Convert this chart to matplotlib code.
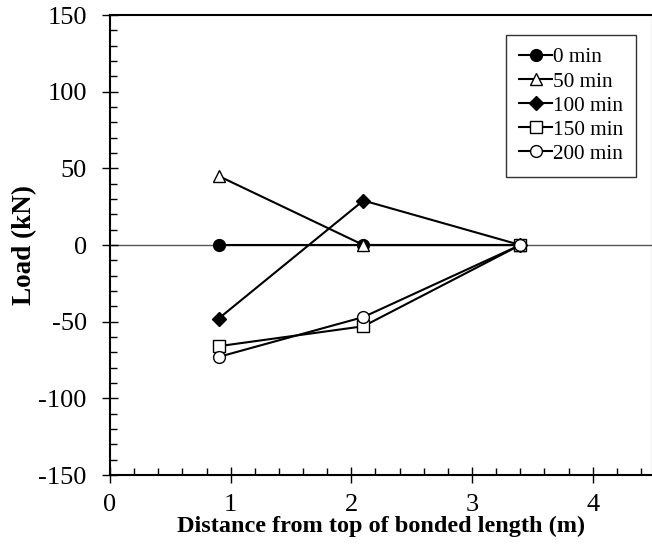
import matplotlib
matplotlib.use('Agg')
import matplotlib.pyplot as plt
from matplotlib.ticker import MultipleLocator

plt.rcParams['font.family'] = ['Liberation Serif', 'DejaVu Serif']
plt.rcParams['axes.unicode_minus'] = False

# distance from top of bonded length (m)
dist = [0.9, 2.1, 3.4]

labels = ['0 min', '50 min', '100 min', '150 min', '200 min']
load_0 = [0, 0, 0]
load_50 = [45, 0, 0]
load_100 = [-48, 29, 0]
load_150 = [-66, -53, 0]
load_200 = [-73, -47, 0]

series = [load_0, load_50, load_100, load_150, load_200]
markers = ['o', '^', 'D', 's', 'o']
faces = ['black', 'white', 'black', 'white', 'white']
msizes = [8.5, 9, 7, 8.5, 8.5]

fig = plt.figure(figsize=(6.52, 5.46), dpi=100)
ax = fig.add_axes([110 / 652, 1 - 475 / 546, 543 / 652, 460 / 546])

ax.axhline(0, color='#555555', lw=1, zorder=1)

for vals, lab, m, fc, ms in zip(series, labels, markers, faces, msizes):
    ax.plot(dist, vals, color='black', lw=1.5, marker=m, markersize=ms,
            markerfacecolor=fc, markeredgecolor='black', markeredgewidth=1,
            label=lab, zorder=3)

ax.set_xlim(0, 4.5)
ax.set_ylim(-150, 150)
ax.xaxis.set_major_locator(MultipleLocator(1))
ax.xaxis.set_minor_locator(MultipleLocator(0.2))
ax.yaxis.set_major_locator(MultipleLocator(50))
ax.yaxis.set_minor_locator(MultipleLocator(10))
ax.tick_params(which='major', direction='inout', length=11.5, width=1,
               labelsize=19)
ax.tick_params(axis='y', which='major', pad=11)
ax.tick_params(axis='x', which='major', pad=8)
ax.tick_params(which='minor', direction='in', length=5, width=1)
for s in ax.spines.values():
    s.set_linewidth(1.5)

ax.set_xlabel('Distance from top of bonded length (m)', fontsize=17.5,
              fontweight='bold', labelpad=0)
ax.set_ylabel('Load (kN)', fontsize=19.5, fontweight='bold', labelpad=1)

leg = ax.legend(loc='upper right', bbox_to_anchor=(0.969, 0.957), fontsize=15.3,
                handlelength=1.55, handletextpad=0.05, borderpad=0.6,
                labelspacing=0.2, frameon=True, fancybox=False,
                edgecolor='black', borderaxespad=0)
leg.get_frame().set_linewidth(1)

fig.savefig('out.png', dpi=100)
